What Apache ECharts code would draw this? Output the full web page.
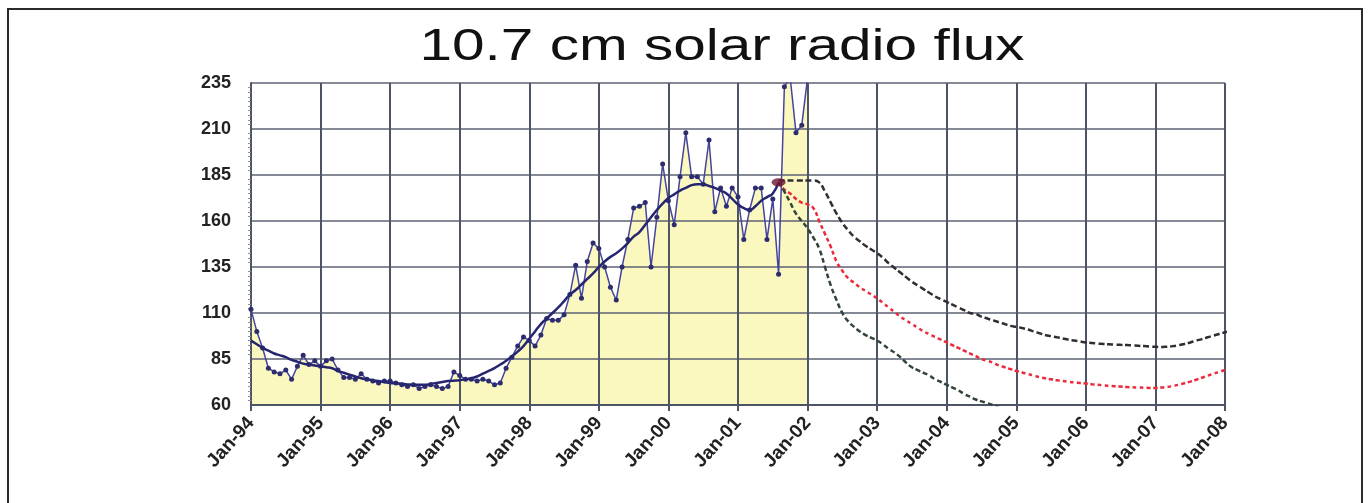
<!DOCTYPE html>
<html lang="en">
<head>
    <meta charset="UTF-8">
    <title>10.7 cm solar radio flux</title>
    <script src="https://cdn.jsdelivr.net/npm/echarts@6/dist/echarts.min.js"></script>
    <style>
        html, body, #main {
            width: 100%;
            height: 100%;
            padding: 0;
            margin: 0;
            background: #fff;
        }
    </style>
</head>
<body>
<div id="main"></div>
<script>
    // month labels Jan-94 .. Jan-08
    var monthNames = ['Jan', 'Feb', 'Mar', 'Apr', 'May', 'Jun', 'Jul', 'Aug', 'Sep', 'Oct', 'Nov', 'Dec'];
    var years = ['94', '95', '96', '97', '98', '99', '00', '01', '02', '03', '04', '05', '06', '07', '08'];
    var yTicks = [60, 85, 110, 135, 160, 185, 210, 235];

    // observed monthly flux, Jan-94 .. Jan-02
    var monthly = [112, 100, 91, 80, 78, 77, 79, 74, 81, 87, 82, 84,
        81, 84, 85, 79, 75, 75, 74, 77, 74, 73, 72, 73,
        73, 72, 71, 70, 71, 69, 70, 71, 70, 69, 70, 78,
        76, 74, 74, 73, 74, 73, 71, 72, 80, 86, 92, 97,
        95, 92, 98, 107, 106, 106, 109, 120, 136, 118, 138, 148,
        145, 135, 124, 117, 135, 150, 167, 168, 170, 135, 162, 191,
        171, 158, 184, 208, 184, 184, 180, 204, 165, 178, 168, 178,
        173, 150, 166, 178, 178, 150, 172, 131, 233, 238, 208, 212,
        238];

    // smoothed flux, Jan-94 .. Aug-01
    var smoothed = [95, 93, 91, 89.5, 88, 87, 86, 84.5, 83.5, 82.5, 82, 81.5,
        81, 80.5, 80, 78.5, 77.5, 76.5, 75.5, 74.5, 74, 73.5, 73, 72.5,
        72, 71.8, 71.5, 71.2, 71, 71, 71, 71.5, 72, 72.5, 73, 73.2,
        73.5, 74, 74.5, 75.5, 77, 78.5, 80, 82, 84, 86.5, 89, 92,
        96, 100, 104, 107, 110, 113, 116.5, 120, 122.5, 125.5, 128.5, 131.5,
        135, 138, 140.5, 142.5, 145, 148, 151.5, 154, 158, 162, 166, 169.5,
        172.5, 174.5, 176.5, 178, 179.5, 180, 180, 179, 178, 176.5, 175, 172,
        169, 167, 166, 168, 171, 173, 175, 181];

    // predictions start Aug-01 (index 91)
    var forecastStart = 91;
    var upper = [182, 182, 182, 182, 182, 182, 182, 181, 176, 170, 164, 159,
        155, 151.5, 149, 146.5, 144.5, 142.5, 140, 137, 134.5, 132, 129.5, 127,
        125, 123, 121, 119, 117.5, 116, 114.5, 113, 111.5, 110, 109.5, 108,
        107, 106, 105, 104, 103, 102.5, 101.8, 101, 100, 99, 98, 97.4,
        96.8, 96.2, 95.5, 95, 94.5, 94, 93.7, 93.4, 93.2, 93, 92.8, 92.7,
        92.6, 92.4, 92.2, 92, 91.8, 91.6, 91.5, 91.7, 92, 92.5, 93.2, 94,
        95, 95.8, 96.8, 97.7, 98.6, 99.5, 100.5];
    var middle = [181, 177, 175, 172, 170, 169, 167, 160, 153, 146, 138, 133,
        129, 126.5, 124, 122, 120, 118, 115.5, 113, 110.5, 108, 106, 104,
        102, 100, 98.5, 97, 95.5, 94, 92.5, 91, 89.5, 88, 86.5, 85,
        84, 83, 81.5, 80.5, 79.5, 78.5, 77.7, 76.8, 76, 75.2, 74.5, 74,
        73.5, 73, 72.6, 72.3, 72, 71.7, 71.3, 71, 70.7, 70.4, 70.2, 70,
        69.8, 69.6, 69.5, 69.4, 69.3, 69.3, 69.5, 69.8, 70.3, 71, 71.8, 72.7,
        73.7, 74.8, 75.9, 77, 78, 79];
    var lower = [181, 176, 170, 164, 160, 156, 151, 145, 135, 125, 117, 110,
        105.5, 102.5, 100, 98, 96.5, 95, 93, 90.5, 88.5, 86, 83, 80.5,
        79, 77.5, 76, 74, 72.5, 71, 69.5, 68, 66, 64.5, 63, 62,
        61, 60, 59];

    var months = [];
    years.forEach(function (y) {
        monthNames.forEach(function (m) {
            months.push(m + '-' + y);
        });
    });
    months = months.slice(0, (years.length - 1) * 12 + 1);

    function fromIndex(arr, start) {
        return arr.map(function (v, i) { return [start + i, v]; });
    }

    var font = "'Liberation Sans', Arial, sans-serif";
    var gridColor = '#4d5464';

    var myChart = echarts.init(document.getElementById('main'));
    myChart.setOption({
        animation: false,
        graphic: [{
            type: 'rect',
            shape: {x: 8, y: 9, width: 1354, height: 520},
            style: {fill: null, stroke: '#2b2b2b', lineWidth: 2},
            z: 100
        }, {
            // title, stretched wide like the original
            type: 'text',
            x: 722,
            y: 26,
            scaleX: 1.33,
            style: {
                text: '10.7 cm solar radio flux',
                align: 'center',
                verticalAlign: 'top',
                fontFamily: font,
                fontSize: 44,
                fill: '#111'
            }
        }],
        grid: {left: 251, right: 145, top: 83, bottom: 98},
        xAxis: {
            type: 'category',
            data: months,
            boundaryGap: false,
            z: 1,
            axisLine: {show: true, lineStyle: {color: gridColor, width: 2}},
            axisTick: {show: true, interval: 11, length: 6, lineStyle: {color: gridColor, width: 2}},
            axisLabel: {
                interval: 11,
                rotate: 48,
                margin: 15,
                fontFamily: font,
                fontSize: 19,
                fontWeight: 'bold',
                color: '#222'
            },
            splitLine: {show: true, interval: 11, lineStyle: {color: gridColor, width: 2}}
        },
        yAxis: {
            type: 'value',
            min: 60,
            max: 235,
            interval: 25,
            z: 1,
            axisLine: {show: true, lineStyle: {color: gridColor, width: 2}},
            axisTick: {show: false},
            minorTick: {show: true, splitNumber: 10, length: 3, lineStyle: {color: '#8a8f9a'}},
            axisLabel: {
                margin: 20,
                fontFamily: font,
                fontSize: 18,
                fontWeight: 'bold',
                color: '#222'
            },
            splitLine: {show: true, lineStyle: {color: '#5c6272', width: 1.6}}
        },
        series: [
            {
                name: 'fill',
                type: 'line',
                data: monthly,
                z: 0,
                symbol: 'none',
                lineStyle: {width: 0},
                areaStyle: {color: '#faf8bf', opacity: 1}
            },
            {
                name: 'monthly',
                type: 'line',
                data: monthly,
                z: 3,
                symbol: 'circle',
                symbolSize: 5,
                showAllSymbol: true,
                itemStyle: {color: '#2c2c6e'},
                lineStyle: {color: '#45459e', width: 1.5}
            },
            {
                name: 'smoothed',
                type: 'line',
                data: smoothed,
                z: 4,
                smooth: true,
                symbol: 'none',
                lineStyle: {color: '#262670', width: 2.5}
            },
            {
                name: 'upper',
                type: 'line',
                data: fromIndex(upper, forecastStart),
                z: 4,
                smooth: true,
                symbol: 'none',
                lineStyle: {color: '#2e2e34', width: 2.5, type: [6, 3]}
            },
            {
                name: 'middle',
                type: 'line',
                data: fromIndex(middle, forecastStart),
                z: 4,
                smooth: true,
                symbol: 'none',
                lineStyle: {color: '#ec2a3c', width: 2.5, type: [4, 3]}
            },
            {
                name: 'lower',
                type: 'line',
                data: fromIndex(lower, forecastStart),
                z: 4,
                smooth: true,
                symbol: 'none',
                lineStyle: {color: '#33443a', width: 2.5, type: [5, 3]}
            },
            {
                name: 'start',
                type: 'scatter',
                data: [[forecastStart, 181]],
                z: 5,
                symbol: 'circle',
                symbolSize: [14, 8],
                itemStyle: {color: '#6e1434'}
            }
        ]
    });
</script>
</body>
</html>
